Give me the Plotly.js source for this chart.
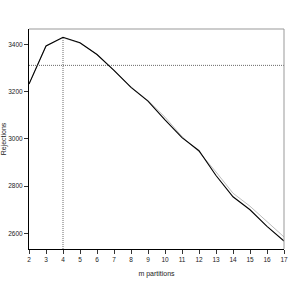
<!DOCTYPE html>
<html>
<head>
<meta charset="utf-8">
<script src="https://cdn.plot.ly/plotly-3.0.1.min.js"></script>
<style>html,body{margin:0;padding:0;background:#fff;}#chart{width:299px;height:286px;}</style>
</head>
<body>
<div id="chart"></div>
<script>
const partitions = [2,3,4,5,6,7,8,9,10,11,12,13,14,15,16,17];
const rejections = [3232,3393,3430,3407,3357,3290,3218,3160,3080,3005,2950,2845,2755,2700,2630,2568];
const rejectionsSmooth = [3232,3393,3428,3405,3357,3290,3220,3162,3092,3010,2945,2860,2770,2715,2648,2585];
const bestM = 4;
const bestRejections = 3430;
const thresholdRejections = 3311;
const xTicks = [2,3,4,5,6,7,8,9,10,11,12,13,14,15,16,17];
const yTicks = [2600,2800,3000,3200,3400];

const xRange = [2, 17];
const yRange = [2534, 3465];

const traces = [
  {x: partitions, y: rejectionsSmooth, mode: 'lines', line: {color: '#bdbdbd', width: 1}, hoverinfo: 'skip'},
  {x: partitions, y: rejections, mode: 'lines', line: {color: '#000', width: 1.1}},
  {x: [bestM, bestM], y: [yRange[0], bestRejections], mode: 'lines', line: {color: '#444', width: 0.8, dash: '1px,1px'}},
  {x: xRange, y: [thresholdRejections, thresholdRejections], mode: 'lines', line: {color: '#444', width: 0.8, dash: '1px,1px'}}
];

const fontFam = 'Liberation Sans, Arial, sans-serif';
const layout = {
  width: 299, height: 286,
  margin: {l: 29, r: 15, t: 29, b: 37},
  showlegend: false,
  paper_bgcolor: '#fff', plot_bgcolor: '#fff',
  font: {family: fontFam, size: 6.5, color: '#222'},
  xaxis: {
    range: xRange, tickvals: xTicks, ticktext: xTicks.map(String),
    showgrid: false, zeroline: false, showline: true, linecolor: '#000', linewidth: 1,
    ticks: 'outside', ticklen: 4, tickcolor: '#000', tickwidth: 0.8,
    tickfont: {size: 6.5, family: fontFam, color: '#222'},
    title: {text: 'm partitions', font: {size: 7, family: fontFam, color: '#222'}, standoff: 9}
  },
  yaxis: {
    range: yRange, tickvals: yTicks, ticktext: yTicks.map(String),
    showgrid: false, zeroline: false, showline: true, linecolor: '#000', linewidth: 1,
    ticks: 'outside', ticklen: 4, tickcolor: '#000', tickwidth: 0.8,
    tickfont: {size: 6.5, family: fontFam, color: '#222'},
    title: {text: 'Rejections', font: {size: 7, family: fontFam, color: '#222'}, standoff: 4}
  },
  shapes: [
    {type: 'line', xref: 'paper', yref: 'paper', x0: 0, x1: 1, y0: 1, y1: 1, line: {color: '#999', width: 1}},
    {type: 'line', xref: 'paper', yref: 'paper', x0: 1, x1: 1, y0: 0, y1: 1, line: {color: '#999', width: 1}}
  ]
};

Plotly.newPlot('chart', traces, layout, {staticPlot: true, displayModeBar: false});
</script>
</body>
</html>
